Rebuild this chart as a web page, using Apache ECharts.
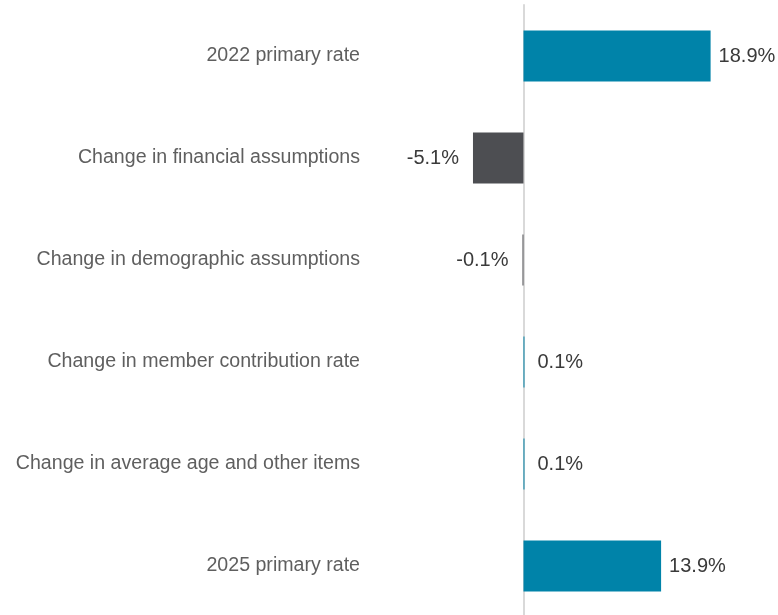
<!DOCTYPE html>
<html>
<head>
<meta charset="utf-8">
<script src="https://cdn.jsdelivr.net/npm/echarts@6/dist/echarts.min.js"></script>
<style>
  html, body { margin: 0; padding: 0; background: #fff; }
  #chart { width: 778px; height: 615px; }
</style>
</head>
<body>
<div id="chart"></div>
<script>
  var categories = [
    '2022 primary rate',
    'Change in financial assumptions',
    'Change in demographic assumptions',
    'Change in member contribution rate',
    'Change in average age and other items',
    '2025 primary rate'
  ];
  var values = [18.9, -5.1, -0.1, 0.1, 0.1, 13.9];

  var chart = echarts.init(document.getElementById('chart'));

  var option = {
    animation: false,
    textStyle: { fontFamily: 'Liberation Sans, Arial, sans-serif' },
    grid: { left: 370, top: 5, height: 612, right: 7, outerBoundsMode: 'none', containLabel: false },
    xAxis: {
      type: 'value',
      min: -15.5,
      max: 25,
      show: false
    },
    yAxis: {
      type: 'category',
      inverse: true,
      data: categories,
      axisLine: { show: true, onZero: true, lineStyle: { color: '#d9d9d9', width: 2 } },
      axisTick: { show: false },
      axisLabel: {
        margin: 10,
        fontSize: 19.6,
        color: '#5f5f5f',
        fontFamily: 'Liberation Sans, Arial, sans-serif'
      }
    },
    series: [
      {
        type: 'bar',
        barWidth: '50%',
        data: values.map(function (v) {
          return {
            value: v,
            itemStyle: { color: v < 0 ? '#4d4e52' : '#0083a9' },
            label: {
              position: v < 0 ? 'left' : 'right',
              distance: v < 0 ? 14 : (Math.abs(v) < 1 ? 13 : 8)
            }
          };
        }),
        label: {
          show: true,
          fontSize: 20,
          color: '#3a3a3a',
          fontFamily: 'Liberation Sans, Arial, sans-serif',
          formatter: function (p) { return p.value.toFixed(1) + '%'; }
        }
      }
    ]
  };

  chart.setOption(option);
</script>
</body>
</html>
